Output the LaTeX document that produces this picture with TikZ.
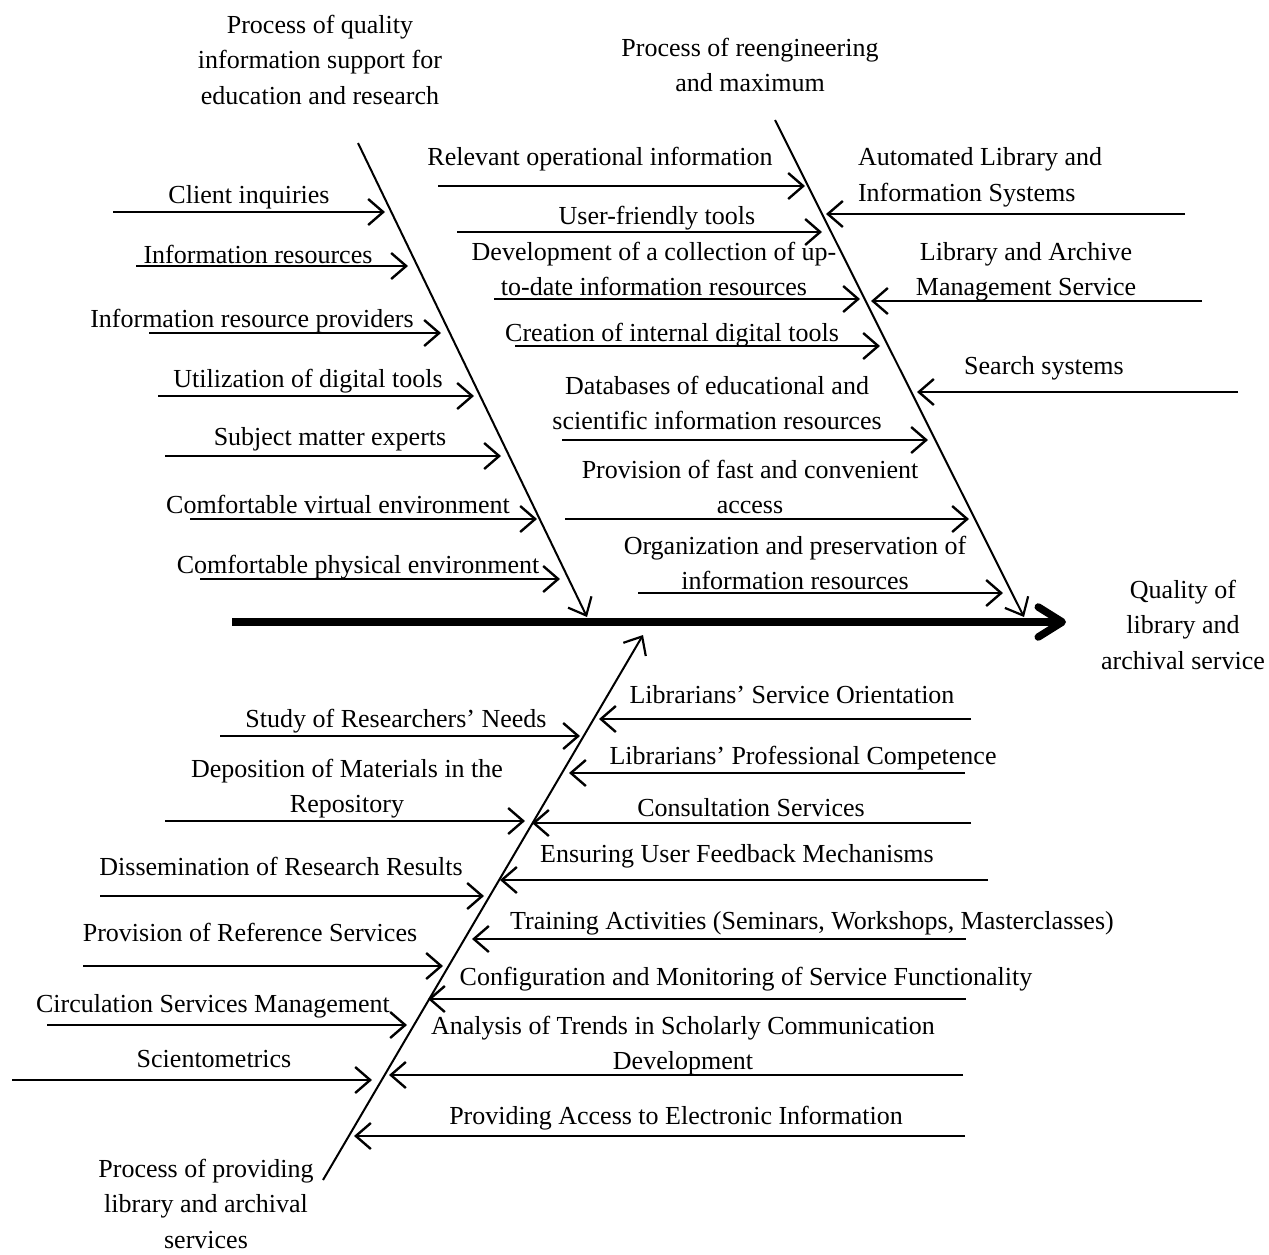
\documentclass[tikz,border=0pt]{standalone}
\usepackage{fontspec}
\setmainfont{Liberation Serif}
\usetikzlibrary{arrows.meta}
\begin{document}
\begin{tikzpicture}[x=1pt,y=-1pt,
  lbl/.style={inner sep=0pt,outer sep=0pt,align=center,anchor=base,font=\fontsize{26}{35.5}\selectfont},
  bone/.style={line width=2pt,-{Straight Barb[length=15,width=26,line width=2.2pt]}},
  branch/.style={line width=2.4pt,-{Straight Barb[length=15,width=26]}},
  spine/.style={line width=7.5pt,-{Straight Barb[length=24,width=30,round]}}]
\useasboundingbox (0,0) rectangle (1269,1254);
% ---------- spine and bones ----------
\coordinate (sp0) at (232,622);
\coordinate (sp1) at (1066,622);
\draw[spine] (sp0) -- (sp1);
\coordinate (A0) at (358,143); \coordinate (A1) at (587,617);
\coordinate (B0) at (775,120); \coordinate (B1) at (1024,617);
\coordinate (C0) at (323,1180); \coordinate (C1) at (643,635);
\draw[bone] (A0) -- (A1);
\draw[bone] (B0) -- (B1);
\draw[bone] (C0) -- (C1);
% ---------- titles (base = last line) ----------
\node[lbl] (tA) at (320,104) {Process of quality\\information support for\\education and research};
\node[lbl] (tB) at (750,91.5) {Process of reengineering\\and maximum};
\node[lbl] (tC) at (206,1248) {Process of providing\\library and archival\\services};
\node[lbl] (eff) at (1183,669) {Quality of\\library and\\archival service};
% ---------- upper-left branches ----------
\node[lbl] (a1) at (249,203) {Client inquiries};
\node[lbl] (a2) at (258,263) {Information resources};
\node[lbl] (a3) at (252,327) {Information resource providers};
\node[lbl] (a4) at (308,387) {Utilization of digital tools};
\node[lbl] (a5) at (330,445) {Subject matter experts};
\node[lbl] (a6) at (338,513) {Comfortable virtual environment};
\node[lbl] (a7) at (358,573) {Comfortable physical environment};
\coordinate (a1s) at (113,212); \coordinate (a1e) at (385,212);
\coordinate (a2s) at (136,266); \coordinate (a2e) at (408,266);
\coordinate (a3s) at (149,333); \coordinate (a3e) at (441,333);
\coordinate (a4s) at (158,396); \coordinate (a4e) at (474,396);
\coordinate (a5s) at (165,456); \coordinate (a5e) at (501,456);
\coordinate (a6s) at (190,519); \coordinate (a6e) at (537,519);
\coordinate (a7s) at (200,579); \coordinate (a7e) at (560,579);
\foreach \i in {1,...,7} {\draw[branch] (a\i s) -- (a\i e);}
% ---------- middle branches ----------
\node[lbl] (m1) at (600,165) {Relevant operational information};
\node[lbl] (m2) at (657,224) {User-friendly tools};
\node[lbl] (m3) at (654,295.5) {Development of a collection of up-\\to-date information resources};
\node[lbl] (m4) at (672,341) {Creation of internal digital tools};
\node[lbl] (m5) at (717,429.5) {Databases of educational and\\scientific information resources};
\node[lbl] (m6) at (750,513.5) {Provision of fast and convenient\\access};
\node[lbl] (m7) at (795,589.5) {Organization and preservation of\\information resources};
\coordinate (m1s) at (438,186); \coordinate (m1e) at (805,186);
\coordinate (m2s) at (457,232); \coordinate (m2e) at (822,232);
\coordinate (m3s) at (494,299); \coordinate (m3e) at (860,299);
\coordinate (m4s) at (515,346); \coordinate (m4e) at (880,346);
\coordinate (m5s) at (562,440); \coordinate (m5e) at (928,440);
\coordinate (m6s) at (565,519); \coordinate (m6e) at (969,519);
\coordinate (m7s) at (638,593); \coordinate (m7e) at (1003,593);
\foreach \i in {1,...,7} {\draw[branch] (m\i s) -- (m\i e);}
% ---------- upper-right branches ----------
\node[lbl,align=left,anchor=base west] (r1) at (858,201) {Automated Library and\\Information Systems};
\node[lbl] (r2) at (1026,295.5) {Library and Archive\\Management Service};
\node[lbl] (r3) at (1044,374) {Search systems};
\coordinate (r1s) at (1185,214); \coordinate (r1e) at (826,214);
\coordinate (r2s) at (1202,301); \coordinate (r2e) at (871,301);
\coordinate (r3s) at (1238,392); \coordinate (r3e) at (917,392);
\foreach \i in {1,2,3} {\draw[branch] (r\i s) -- (r\i e);}
% ---------- lower-left branches ----------
\node[lbl] (l1) at (396,727) {Study of Researchers’ Needs};
\node[lbl] (l2) at (347,812.5) {Deposition of Materials in the\\Repository};
\node[lbl] (l3) at (281,875) {Dissemination of Research Results};
\node[lbl] (l4) at (250,941) {Provision of Reference Services};
\node[lbl] (l5) at (213,1012) {Circulation Services Management};
\node[lbl] (l6) at (214,1067) {Scientometrics};
\coordinate (l1s) at (220,736); \coordinate (l1e) at (580,736);
\coordinate (l2s) at (165,821); \coordinate (l2e) at (525,821);
\coordinate (l3s) at (100,896); \coordinate (l3e) at (484,896);
\coordinate (l4s) at (83,966);  \coordinate (l4e) at (443,966);
\coordinate (l5s) at (47,1025); \coordinate (l5e) at (407,1025);
\coordinate (l6s) at (12,1080); \coordinate (l6e) at (372,1080);
\foreach \i in {1,...,6} {\draw[branch] (l\i s) -- (l\i e);}
% ---------- lower-right branches ----------
\node[lbl] (q1) at (792,703) {Librarians’ Service Orientation};
\node[lbl] (q2) at (803,764) {Librarians’ Professional Competence};
\node[lbl] (q3) at (751,816) {Consultation Services};
\node[lbl] (q4) at (737,862) {Ensuring User Feedback Mechanisms};
\node[lbl] (q5) at (812,929) {Training Activities (Seminars, Workshops, Masterclasses)};
\node[lbl] (q6) at (746,985) {Configuration and Monitoring of Service Functionality};
\node[lbl] (q7) at (683,1069.5) {Analysis of Trends in Scholarly Communication\\Development};
\node[lbl] (q8) at (676,1124) {Providing Access to Electronic Information};
\coordinate (q1s) at (971,719);  \coordinate (q1e) at (599,719);
\coordinate (q2s) at (965,773);  \coordinate (q2e) at (569,773);
\coordinate (q3s) at (971,823);  \coordinate (q3e) at (532,823);
\coordinate (q4s) at (988,880);  \coordinate (q4e) at (500,880);
\coordinate (q5s) at (966,939);  \coordinate (q5e) at (472,939);
\coordinate (q6s) at (966,999);  \coordinate (q6e) at (428,999);
\coordinate (q7s) at (963,1075); \coordinate (q7e) at (389,1075);
\coordinate (q8s) at (965,1136); \coordinate (q8e) at (354,1136);
\foreach \i in {1,...,8} {\draw[branch] (q\i s) -- (q\i e);}
\end{tikzpicture}
\end{document}
